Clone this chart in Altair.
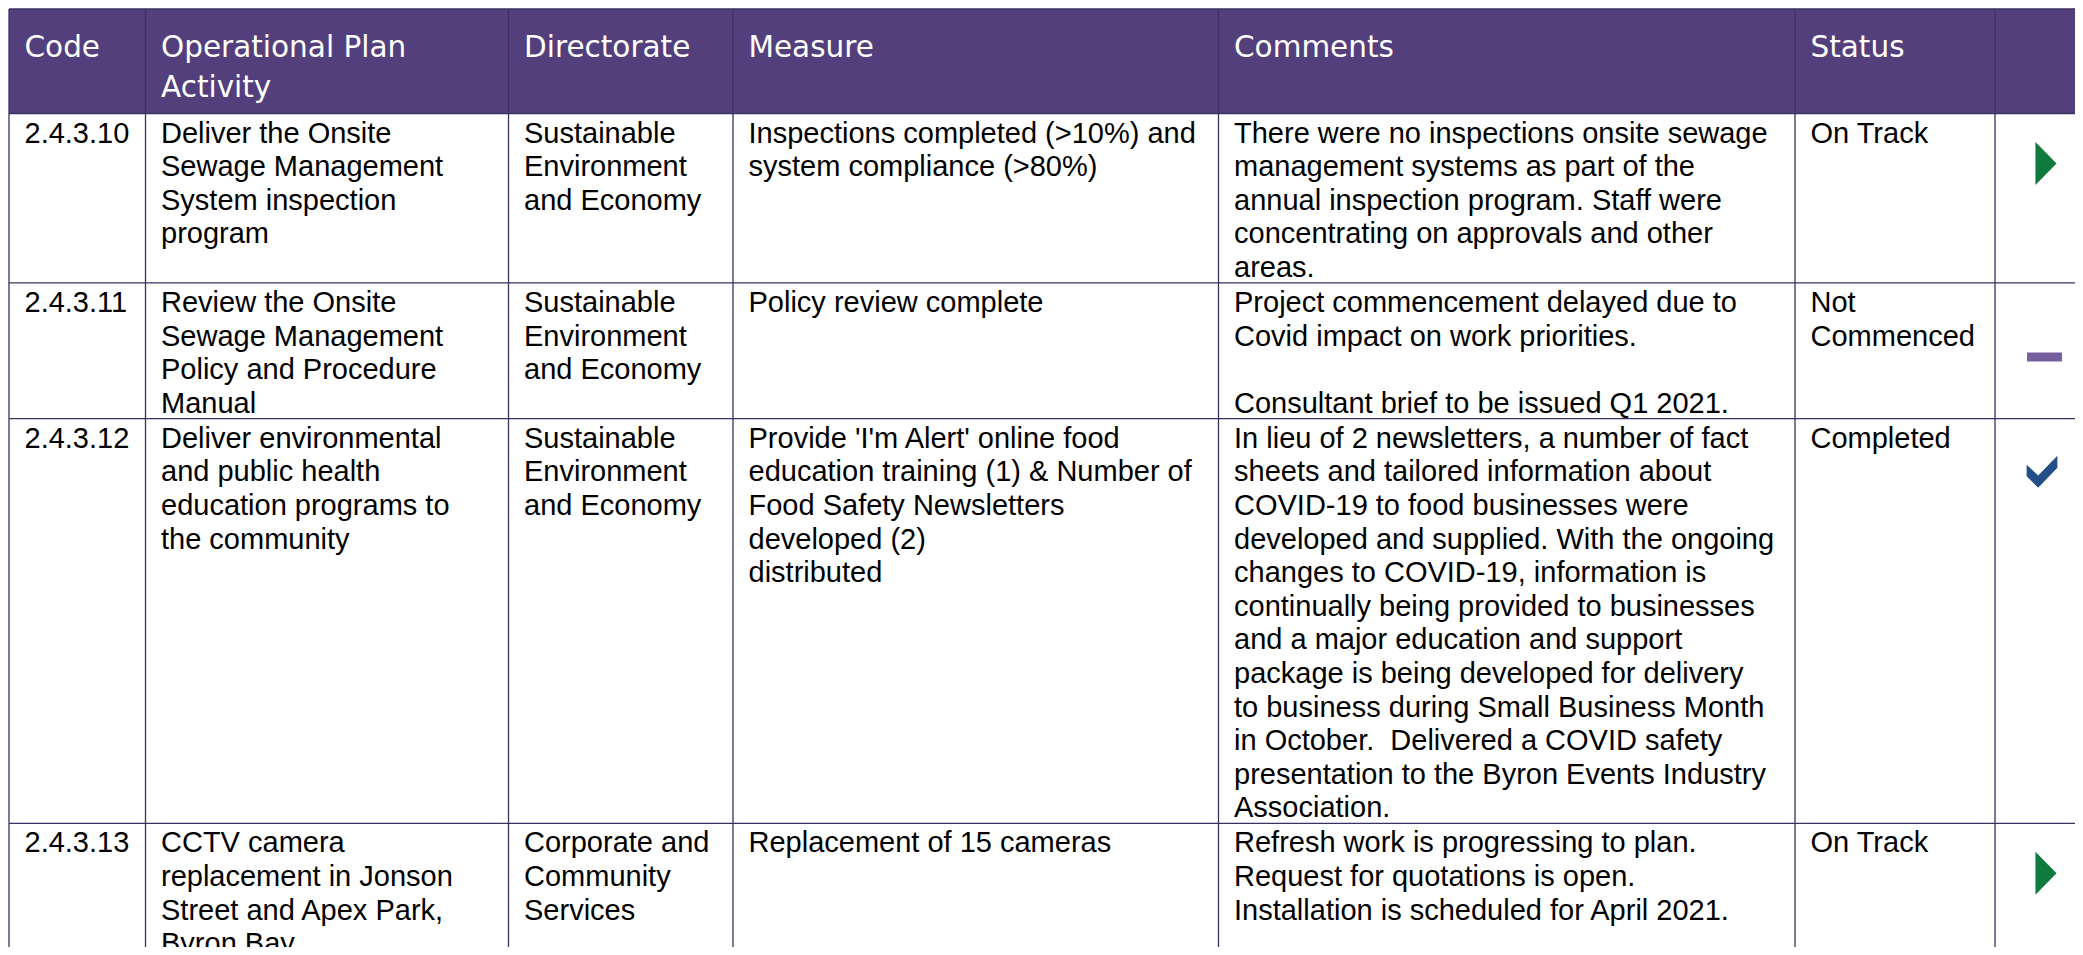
import altair as alt
import pandas as pd

# ---------------- data (table content) ----------------
header_labels = [["Code"], ["Operational Plan", "Activity"], ["Directorate"],
                 ["Measure"], ["Comments"], ["Status"]]

codes = [["2.4.3.10"], ["2.4.3.11"], ["2.4.3.12"], ["2.4.3.13"]]

activities = [
    ["Deliver the Onsite", "Sewage Management", "System inspection", "program"],
    ["Review the Onsite", "Sewage Management", "Policy and Procedure", "Manual"],
    ["Deliver environmental", "and public health", "education programs to", "the community"],
    ["CCTV camera", "replacement in Jonson", "Street and Apex Park,", "Byron Bay"],
]

directorates = [
    ["Sustainable", "Environment", "and Economy"],
    ["Sustainable", "Environment", "and Economy"],
    ["Sustainable", "Environment", "and Economy"],
    ["Corporate and", "Community", "Services"],
]

measures = [
    ["Inspections completed (>10%) and", "system compliance (>80%)"],
    ["Policy review complete"],
    ["Provide 'I'm Alert' online food", "education training (1) & Number of",
     "Food Safety Newsletters", "developed (2)", "distributed"],
    ["Replacement of 15 cameras"],
]

comments = [
    ["There were no inspections onsite sewage", "management systems as part of the",
     "annual inspection program. Staff were", "concentrating on approvals and other", "areas."],
    ["Project commencement delayed due to", "Covid impact on work priorities.", "",
     "Consultant brief to be issued Q1 2021."],
    ["In lieu of 2 newsletters, a number of fact", "sheets and tailored information about",
     "COVID-19 to food businesses were", "developed and supplied. With the ongoing",
     "changes to COVID-19, information is", "continually being provided to businesses",
     "and a major education and support", "package is being developed for delivery",
     "to business during Small Business Month", "in October.\u00a0 Delivered a COVID safety",
     "presentation to the Byron Events Industry", "Association."],
    ["Refresh work is progressing to plan.", "Request for quotations is open.",
     "Installation is scheduled for April 2021."],
]

statuses = [["On Track"], ["Not", "Commenced"], ["Completed"], ["On Track"]]
status_kind = ["On Track", "Not Commenced", "Completed", "On Track"]

# ---------------- layout (page pixels) ----------------
W, H = 2067, 939
M = 8
RIGHT = M + W
BOTTOM = M + H
col_edges = [9, 145.5, 508.5, 733, 1218.5, 1795, 1995]
TOP = 9
HEAD_BOTTOM = 113.5
PAD_X = 15.5
LINE = 33.6
BASE = 29
AFTER = 6
HEAD_BASE = 56.7
HEAD_LINE = 40.6
icon_dy = [50, 74, 53, 50]
icon_x = {"On Track": 2046, "Not Commenced": 2044.5, "Completed": 2042}

columns = [codes, activities, directorates, measures, comments, statuses]

# row tops from line counts
row_tops = [HEAD_BOTTOM]
for r in range(len(codes)):
    n = max(len(col[r]) for col in columns)
    row_tops.append(row_tops[-1] + BASE + (n - 1) * LINE + AFTER)

# text records
body = []
for r in range(len(codes)):
    for c, col in enumerate(columns):
        for k, t in enumerate(col[r]):
            if t:
                body.append({"x": col_edges[c] + PAD_X, "y": row_tops[r] + BASE + k * LINE, "t": t})
head = []
for c, lines in enumerate(header_labels):
    for k, t in enumerate(lines):
        head.append({"x": col_edges[c] + PAD_X, "y": HEAD_BASE + k * HEAD_LINE, "t": t})

# grid rules
rules = []
for xe in col_edges:
    rules.append({"x": xe, "x2": xe, "y": TOP, "y2": BOTTOM})
for ye in [TOP, HEAD_BOTTOM] + row_tops[1:]:
    rules.append({"x": col_edges[0], "x2": RIGHT, "y": ye, "y2": ye})

icons = []
for r, kind in enumerate(status_kind):
    icons.append({"x": icon_x[kind], "y": row_tops[r] + icon_dy[r], "kind": kind})

header_rect = pd.DataFrame([{"x": col_edges[0], "x2": RIGHT, "y": TOP, "y2": HEAD_BOTTOM}])

xs = alt.Scale(domain=[M, RIGHT], zero=False, nice=False)
ys = alt.Scale(domain=[M, BOTTOM], zero=False, nice=False, reverse=True)
X = alt.X("x:Q", scale=xs, axis=None)
Y = alt.Y("y:Q", scale=ys, axis=None)

rect = alt.Chart(header_rect).mark_rect(color="#533F7B").encode(
    x=X, x2="x2:Q", y=Y, y2="y2:Q")

grid = alt.Chart(pd.DataFrame(rules)).mark_rule(color="#3B3262", strokeWidth=1.3).encode(
    x=X, x2="x2:Q", y=Y, y2="y2:Q")

head_text = alt.Chart(pd.DataFrame(head)).mark_text(
    align="left", baseline="alphabetic", font="DejaVu Sans", fontSize=29.5,
    color="white").encode(x=X, y=Y, text="t:N")

body_text = alt.Chart(pd.DataFrame(body)).mark_text(
    align="left", baseline="alphabetic", font="Liberation Sans", fontSize=29,
    color="black").encode(x=X, y=Y, text="t:N")

idf = pd.DataFrame(icons)
tri = alt.Chart(idf[idf.kind == "On Track"]).mark_point(
    shape="M -0.49 -1 L 0.49 0 L -0.49 1 Z", filled=True, size=1849,
    color="#0F7A3D", opacity=1, strokeWidth=0).encode(x=X, y=Y)
dash = alt.Chart(idf[idf.kind == "Not Commenced"]).mark_rect(
    width=35, height=9, color="#76619E").encode(x=X, y=Y)
check = alt.Chart(idf[idf.kind == "Completed"]).mark_point(
    shape="M -0.96 -0.44 L -0.24 0.24 L 0.96 -1 L 0.96 -0.24 L -0.24 1 L -0.96 0.28 Z",
    filled=True, size=1024, color="#234E86", opacity=1, strokeWidth=0).encode(x=X, y=Y)

chart = alt.layer(rect, grid, head_text, body_text, tri, dash, check).properties(
    width=W, height=H, padding=0, autosize=alt.AutoSizeParams(type="none"),
    background="white"
).configure_view(strokeWidth=0)

chart.save("out.html", embed_options={"renderer": "svg", "actions": False})
